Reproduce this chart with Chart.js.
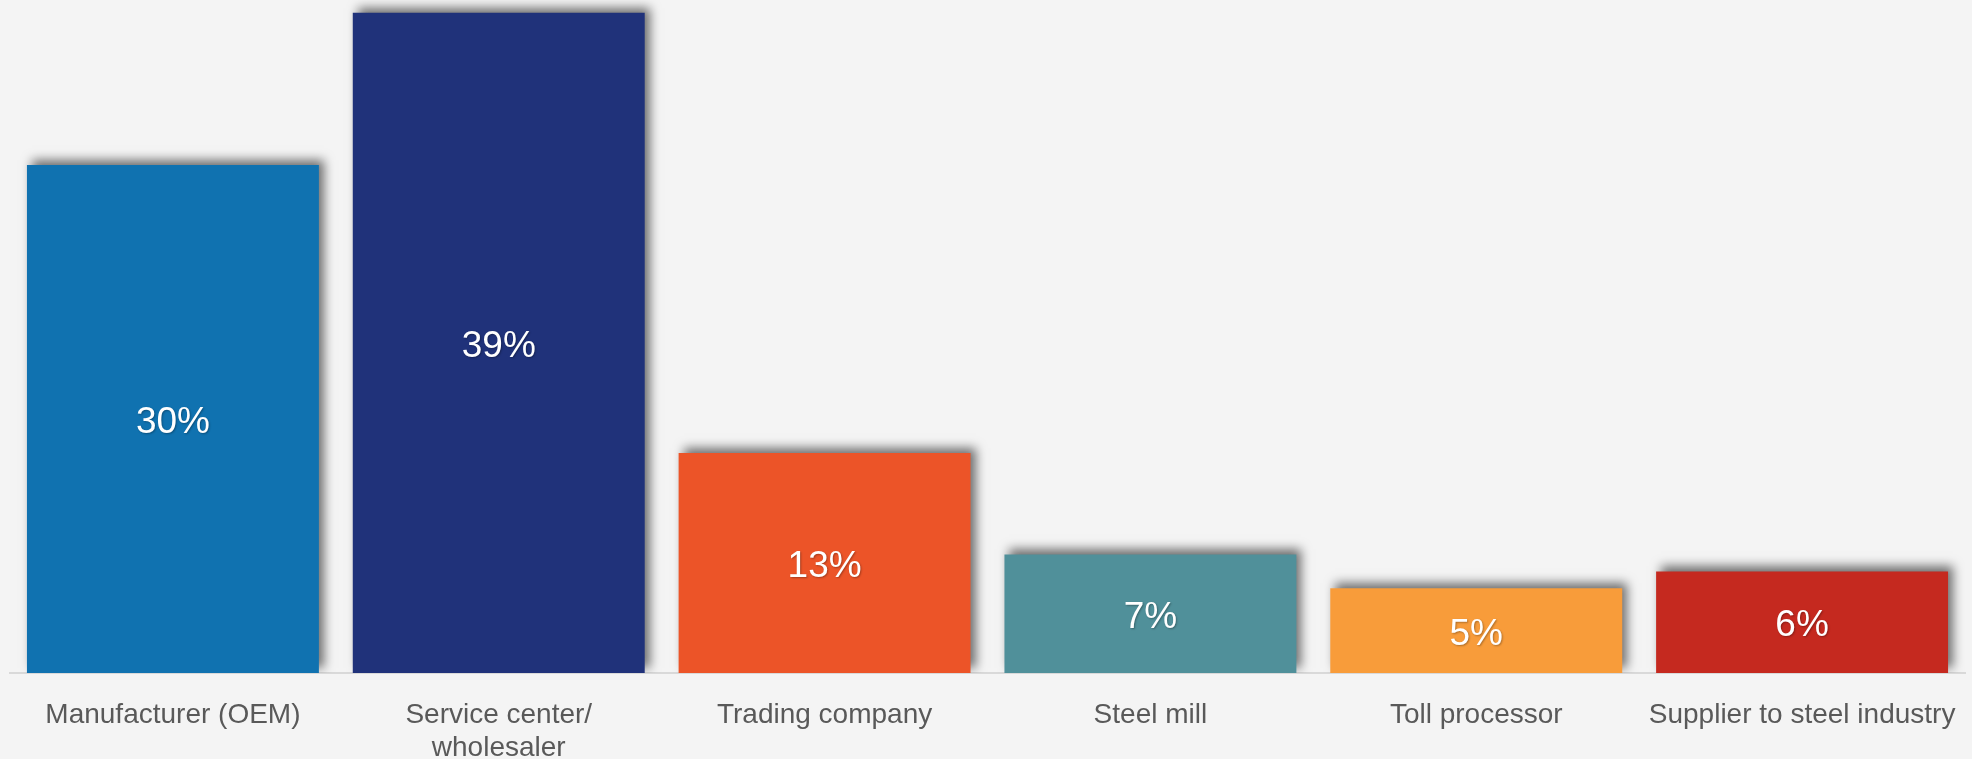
<!DOCTYPE html>
<html>
<head>
<meta charset="utf-8">
<script src="https://cdn.jsdelivr.net/npm/chart.js@4"></script>
<style>
  html, body { margin: 0; padding: 0; background: #f4f4f4; }
  #wrap { width: 1972px; height: 759px; }
</style>
</head>
<body>
<div id="wrap"><canvas id="tipoEmpresa"></canvas></div>
<script>
// categorias e valores
var categorias = [
    'Manufacturer (OEM)',
    ['Service center/', 'wholesaler'],
    'Trading company',
    'Steel mill',
    'Toll processor',
    'Supplier to steel industry'
];
var percentuais = [30, 39, 13, 7, 5, 6];
var cores = ['#1072b0', '#20327a', '#ec5428', '#50909a', '#f89c3a', '#c5291f'];

var fonte = "'Liberation Sans', Arial, sans-serif";

// sombra nas barras
var sombraBarras = {
    id: 'sombraBarras',
    beforeDatasetsDraw: function (chart) {
        var ctx = chart.ctx;
        ctx.save();
        ctx.shadowColor = 'rgba(0,0,0,0.55)';
        ctx.shadowBlur = 10;
        ctx.shadowOffsetX = 5;
        ctx.shadowOffsetY = -5;
    },
    afterDatasetsDraw: function (chart) {
        var ctx = chart.ctx;
        ctx.restore();
        // rotulos de valor no meio de cada barra
        var meta = chart.getDatasetMeta(0);
        ctx.save();
        ctx.font = '300 37px ' + fonte;
        ctx.fillStyle = '#ffffff';
        ctx.textAlign = 'center';
        ctx.textBaseline = 'middle';
        ctx.shadowColor = 'rgba(0,0,0,0.3)';
        ctx.shadowBlur = 2;
        ctx.shadowOffsetX = 1;
        ctx.shadowOffsetY = 1;
        meta.data.forEach(function (bar, i) {
            ctx.fillText(percentuais[i] + '%', bar.x, (bar.y + bar.base) / 2 + 4);
        });
        ctx.restore();
    }
};

var ctx_tipoEmpresa = document.getElementById('tipoEmpresa').getContext('2d');
var myChart_tipoEmpresa = new Chart(ctx_tipoEmpresa, {
    type: 'bar',
    data: {
        labels: categorias,
        datasets: [
            {
                label: 'Percentual %',
                data: percentuais,
                backgroundColor: cores,
                borderWidth: 0,
                categoryPercentage: 1,
                barPercentage: 0.896
            }
        ]
    },
    options: {
        responsive: true,
        maintainAspectRatio: false,
        animation: false,
        layout: {
            padding: { left: 10, right: 7, top: 0, bottom: 0 }
        },
        plugins: {
            legend: { display: false },
            tooltip: { enabled: false }
        },
        scales: {
            x: {
                grid: { display: false, drawTicks: false },
                border: { display: true, color: '#d9d9d9', width: 2 },
                ticks: {
                    color: '#595959',
                    padding: 25,
                    maxRotation: 0,
                    autoSkip: false,
                    font: { family: fonte, size: 28, weight: '300' }
                },
                afterFit: function (scale) {
                    scale.height = 86;
                    scale.paddingLeft = 0;
                    scale.paddingRight = 0;
                }
            },
            y: {
                display: false,
                min: 0,
                max: 39.75
            }
        }
    },
    plugins: [sombraBarras]
});
</script>
</body>
</html>
